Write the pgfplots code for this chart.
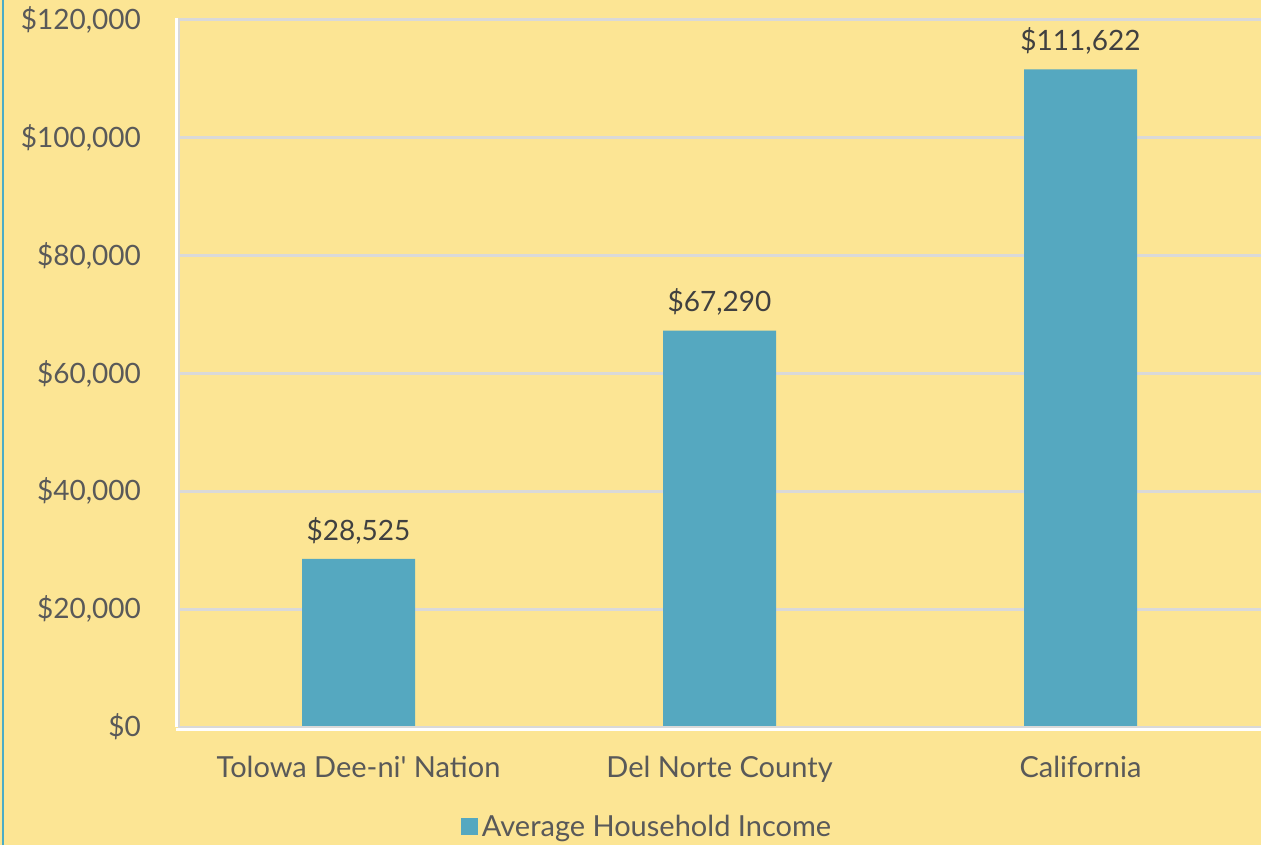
\documentclass[border=0pt]{standalone}
\usepackage{pgfplots}
\pgfplotsset{compat=1.18}
\usepackage{fontspec}
\setmainfont{Lato}
\definecolor{bg}{HTML}{FCE594}
\definecolor{barc}{HTML}{55A8C0}
\definecolor{gridc}{HTML}{D9D9D9}
\definecolor{txt}{HTML}{595959}
\definecolor{lbl}{HTML}{404040}
\definecolor{edge}{HTML}{4BACC6}
\begin{document}
\begin{tikzpicture}
\path[use as bounding box, fill=bg] (0,0) rectangle (630.5pt,422.5pt);
\draw[color=edge, line width=1.2pt] (1.5pt,0) -- (1.5pt,422.5pt);
\draw[white, line width=1.5pt] (88pt,59pt) -- (88pt,412.5pt) -- (631pt,412.5pt);
\begin{axis}[
  at={(89pt,59pt)}, anchor=south west,
  scale only axis, width=541.5pt, height=353.5pt,
  xmin=-0.5, xmax=2.5, ymin=0, ymax=120000,
  ybar, bar width=56.5pt,
  axis line style={draw=none},
  ymajorgrids, grid style={gridc, line width=1.5pt},
  major tick length=0pt,
  xtick={0,1,2},
  xticklabels={Tolowa Dee-ni\textquotesingle\ Nation, Del Norte County, California},
  ytick={0,20000,40000,60000,80000,100000,120000},
  yticklabels={{\$0},{\$20,000},{\$40,000},{\$60,000},{\$80,000},{\$100,000},{\$120,000}},
  xticklabel style={font=\fontsize{14.5}{17}\selectfont, text=txt, yshift=-11pt},
  yticklabel style={font=\fontsize{14}{17}\selectfont, text=txt, inner ysep=0pt, xshift=-15pt},
  nodes near coords,
  point meta=explicit symbolic,
  every node near coord/.append style={font=\fontsize{14}{17}\selectfont, text=lbl, yshift=4pt},
  legend style={at={(0.434,-0.1414)}, anchor=center, draw=none, fill=none,
    font=\fontsize{14.5}{17}\selectfont, text=txt},
  legend image code/.code={\fill[barc] (0pt,-4.25pt) rectangle (8.5pt,4.25pt);},
]
\addplot[fill=barc, draw=none] coordinates {(0,28525) [\$28,525] (1,67290) [\$67,290] (2,111622) [\$111,622]};
\addlegendentry{Average Household Income}
\draw[gridc, line width=1.5pt] (axis cs:-0.5,0) -- (axis cs:-0.5,120000);
\draw[gridc, line width=1.5pt] (axis cs:-0.5,0) -- (axis cs:2.5,0);
\end{axis}
\draw[white, line width=1.2pt] (88pt,57.8pt) -- (631pt,57.8pt);
\end{tikzpicture}
\end{document}
